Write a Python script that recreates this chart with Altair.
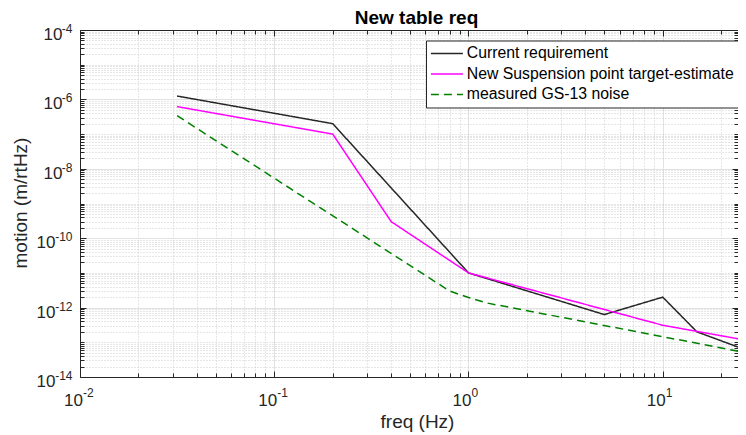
import altair as alt
import pandas as pd

# ---------------- data ----------------
series_names = ["Current requirement", "New Suspension point target-estimate", "measured GS-13 noise"]
series_colors = ["#262626", "#ff00ff", "#008000"]
series_dash = [[1, 0], [1, 0], [8, 5]]

cur_f = [0.0316, 0.2, 1.0, 5.0, 10.0, 15.0, 28.0]
cur_v = [1.25e-6, 2.0e-7, 1.0e-11, 6.3e-13, 2.0e-12, 2.0e-13, 5.5e-14]

new_f = [0.0316, 0.2, 0.4, 1.0, 10.0, 28.0]
new_v = [6.2e-7, 1.0e-7, 3.0e-10, 1.0e-11, 3.1e-13, 1.1e-13]

gs_f = [0.0316, 0.8, 1.0, 1.25, 10.0, 28.0]
gs_v = [3.4e-7, 3.0e-12, 1.95e-12, 1.35e-12, 1.45e-13, 4.8e-14]

x_domain = [0.01, 24.4]
y_domain = [1e-14, 1e-4]
x_ticks = [float(f"{m}e{k}") for k in range(-2, 1) for m in range(1, 10)] + [10.0, 20.0]
y_ticks = [float(f"{m}e{k}") for k in range(-14, -4) for m in range(1, 10)] + [1e-4]
x_decades = [0.01, 0.1, 1.0, 10.0]
y_decades = [1e-14, 1e-12, 1e-10, 1e-8, 1e-6, 1e-4]
y_decades_2digit = [1e-14, 1e-12, 1e-10]

chart_title = "New table req"
x_title = "freq (Hz)"
y_title = "motion (m/rtHz)"

rows = []
for name, fs, vs in [(series_names[0], cur_f, cur_v),
                     (series_names[1], new_f, new_v),
                     (series_names[2], gs_f, gs_v)]:
    for i, (f, v) in enumerate(zip(fs, vs)):
        rows.append({"series": name, "f": f, "v": v, "i": i})
df = pd.DataFrame(rows)

# ---------------- style ----------------
W, H = 658, 347
FONT = "Liberation Sans"
TXT = "#262626"
XMAJ = "abs(log(datum.value)/LN10 - round(log(datum.value)/LN10)) < 0.001"
YMAJ = "abs(log(datum.value)/LN10/2 - round(log(datum.value)/LN10/2)) < 0.001"

xs = alt.Scale(type="log", domain=x_domain, nice=False)
ys = alt.Scale(type="log", domain=y_domain, nice=False)


def grid_color(test):
    return {"condition": {"test": test, "value": "#e2e2e2"}, "value": "#cdcdcd"}


def grid_dash(test):
    return {"condition": {"test": test, "value": []}, "value": [1, 2]}


def tick_size(test):
    return {"condition": {"test": test, "value": 6}, "value": 4}


main_x_axis = alt.Axis(
    orient="bottom", values=x_ticks, grid=True, gridColor=grid_color(XMAJ),
    gridDash=grid_dash(XMAJ), gridWidth=1, ticks=False,
    domain=True, domainColor=TXT, domainWidth=1,
    labelExpr=f"({XMAJ}) ? '10' : ''", labelAlign="right", labelBaseline="top",
    labelPadding=15, labelOffset=2.5, labelFontSize=17, labelFont=FONT,
    labelColor=TXT, labelOverlap=False, labelFlush=False,
    title=x_title, titleFontSize=19, titleFont=FONT, titleFontWeight="normal",
    titleColor=TXT, titleBaseline="alphabetic", titleAlign="center",
    titleX=337, titleY=50,
)
main_y_axis = alt.Axis(
    orient="left", values=y_ticks, grid=True, gridColor=grid_color(YMAJ),
    gridDash=grid_dash(YMAJ), gridWidth=1, ticks=False,
    domain=True, domainColor=TXT, domainWidth=1,
    labelExpr="indexof([1e-8, 1e-6, 1e-4], datum.value) >= 0 ? '10' : ''",
    labelAlign="right", labelBaseline="middle",
    labelPadding=18, labelOffset=4.5, labelFontSize=17, labelFont=FONT,
    labelColor=TXT, labelOverlap=False, labelFlush=False,
    title=y_title, titleFontSize=19, titleFont=FONT, titleFontWeight="normal",
    titleColor=TXT, titleBaseline="alphabetic", titleAngle=270, titleAlign="center",
    titleX=-54, titleY=H / 2 - 1,
)
ten2_y_axis = alt.Axis(
    orient="left", values=y_decades_2digit, grid=False, ticks=False, domain=False,
    labelExpr="'10'", labelAlign="right", labelBaseline="middle",
    labelPadding=25, labelOffset=4.5, labelFontSize=17, labelFont=FONT,
    labelColor=TXT, labelOverlap=False, labelFlush=False, title=None,
)
exp_x_axis = alt.Axis(
    orient="bottom", values=x_decades, grid=False, ticks=False, domain=False,
    labelExpr="'' + round(log(datum.value)/LN10)", labelAlign="left", labelBaseline="top",
    labelPadding=10, labelOffset=2.5, labelFontSize=12, labelFont=FONT, labelColor=TXT,
    labelOverlap=False, labelFlush=False, title=None,
)
exp_y_axis = alt.Axis(
    orient="left", values=y_decades, grid=False, ticks=False, domain=False,
    labelExpr="'' + round(log(datum.value)/LN10)", labelAlign="right", labelBaseline="middle",
    labelPadding=8, labelOffset=-1.5, labelFontSize=12, labelFont=FONT, labelColor=TXT,
    labelOverlap=False, labelFlush=False, title=None,
)
blank_x_axis = alt.Axis(orient="bottom", values=[], grid=False, ticks=False, domain=False,
                        labels=False, title=None)


def tick_axis(orient, values, test, offset, domain=False, **kw):
    return alt.Axis(
        orient=orient, offset=offset, values=values, grid=False,
        domain=domain, domainColor=TXT, domainWidth=1,
        labels=False, ticks=True, tickSize=tick_size(test), tickColor=TXT,
        tickWidth=1, **kw,
    )


# chart title carried by the (inward-tick) axis that sits on the top edge
top_axis = tick_axis(
    "bottom", x_ticks, XMAJ, -H, domain=True,
    title=chart_title, titleFontSize=19, titleFont=FONT, titleFontWeight="bold",
    titleColor="black", titleBaseline="alphabetic", titleAlign="center",
    titleX=336, titleY=-7,
)

legend = alt.Legend(
    title=None, orient="none", legendX=346, legendY=10.5, direction="vertical",
    symbolType="M-1.6,0H4.8", symbolSize=100, symbolStrokeWidth=1.5,
    labelFontSize=15.8, labelFont=FONT, labelColor="black", labelOffset=20,
    labelLimit=0, padding=5, rowPadding=3.5, fillColor="white",
    strokeColor=TXT, cornerRadius=0,
)

lines = alt.Chart(df).mark_line(clip=True, strokeWidth=1.5).encode(
    x=alt.X("f:Q", scale=xs, axis=main_x_axis),
    y=alt.Y("v:Q", scale=ys, axis=main_y_axis),
    color=alt.Color("series:N", scale=alt.Scale(domain=series_names, range=series_colors), legend=legend),
    strokeDash=alt.StrokeDash("series:N", scale=alt.Scale(domain=series_names, range=series_dash), legend=legend),
    order="i:Q",
)

exp_layer = alt.Chart(df).mark_point(opacity=0, clip=True).encode(
    x=alt.X("f:Q", scale=xs, axis=exp_x_axis),
    y=alt.Y("v:Q", scale=ys, axis=exp_y_axis),
)
ten2_layer = alt.Chart(df).mark_point(opacity=0, clip=True).encode(
    x=alt.X("f:Q", scale=xs, axis=blank_x_axis),
    y=alt.Y("v:Q", scale=ys, axis=ten2_y_axis),
)
ticks_a = alt.Chart(df).mark_point(opacity=0, clip=True).encode(
    x=alt.X("f:Q", scale=xs, axis=tick_axis("top", x_ticks, XMAJ, -H, title=None)),
    y=alt.Y("v:Q", scale=ys, axis=tick_axis("right", y_ticks, YMAJ, -W, title=None)),
)
ticks_b = alt.Chart(df).mark_point(opacity=0, clip=True).encode(
    x=alt.X("f:Q", scale=xs, axis=top_axis),
    y=alt.Y("v:Q", scale=ys, axis=tick_axis("left", y_ticks, YMAJ, -W, title=None)),
)

chart = (
    alt.layer(lines, exp_layer, ten2_layer, ticks_a, ticks_b)
    .resolve_scale(x="shared", y="shared")
    .resolve_axis(x="independent", y="independent")
    .properties(
        width=W, height=H,
        autosize=alt.AutoSizeParams(type="none"),
        padding={"left": 72, "top": 22, "right": 0, "bottom": 58},
    )
    .configure_view(stroke=None)
    .configure(background="white")
)

chart.save("out.html", embed_options={"renderer": "svg", "actions": False})
